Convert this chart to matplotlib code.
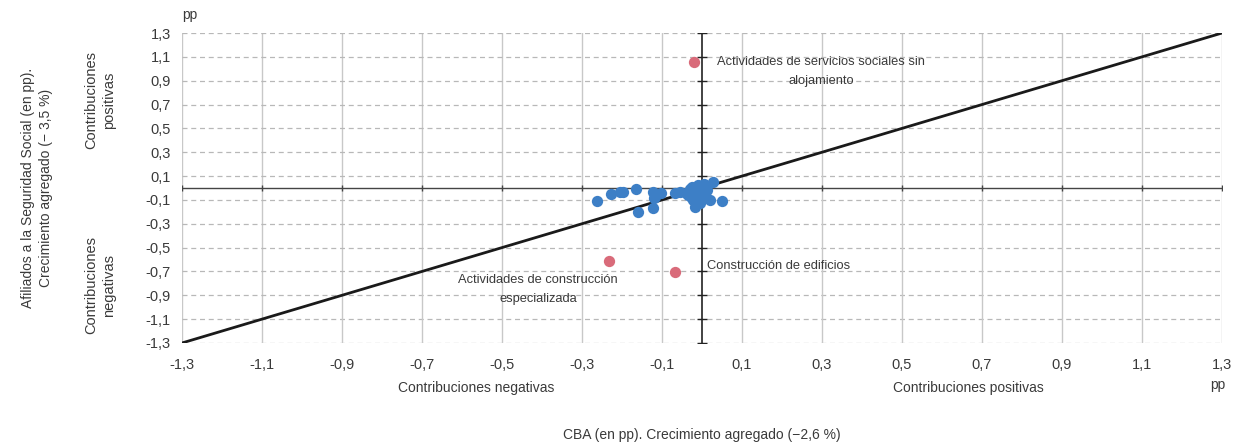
import numpy as np
import matplotlib
matplotlib.use('Agg')
import matplotlib.pyplot as plt

plt.rcParams['font.family'] = ['Liberation Sans', 'DejaVu Sans']

# sectores (contribucion CBA, contribucion afiliados), en pp
blue_x = [-0.262, -0.228, -0.205, -0.197, -0.165, -0.160, -0.122, -0.122, -0.120, -0.117,
          -0.103, -0.067, -0.055, -0.040, -0.034, -0.030, -0.028, -0.026, -0.022, -0.020,
          -0.018, -0.015, -0.013, -0.010, -0.008, -0.005, -0.001, 0.000, 0.003, 0.005,
          0.008, 0.012, 0.020, 0.028, 0.049]
blue_y = [-0.107, -0.053, -0.034, -0.030, -0.011, -0.200, -0.030, -0.170, -0.087, -0.073,
          -0.045, -0.045, -0.030, -0.040, -0.059, -0.010, -0.075, 0.011, -0.100, -0.020,
          -0.157, -0.120, -0.045, 0.025, -0.090, -0.128, -0.073, -0.030, 0.011, 0.030,
          -0.050, -0.017, -0.100, 0.053, -0.107]

red_x = [-0.020, -0.232, -0.068]
red_y = [1.057, -0.612, -0.705]
red_labels = ['Actividades de servicios sociales sin\nalojamiento',
              'Actividades de construcción\nespecializada',
              'Construcción de edificios']

ticks = np.round(np.arange(-1.3, 1.31, 0.2), 1)
tick_labels = [f'{t:.1f}'.replace('.', ',') for t in ticks]

txt = '#3a3a3a'
blue = '#3d7fc6'
red = '#d96b7a'

fig = plt.figure(figsize=(12.42, 4.48), dpi=100)
ax = fig.add_axes([0.1465, 0.2344, 0.8374, 0.6919])

ax.set_xlim(-1.3, 1.3)
ax.set_ylim(-1.3, 1.3)
for t in ticks:
    ax.axvline(t, color='#c8c8c8', lw=1, zorder=0)
    ax.axhline(t, color='#b8b8b8', lw=0.9, ls=(0, (4, 3)), zorder=0)

# ejes en cero con marcas
ax.axhline(0, color='#444444', lw=1, zorder=1)
ax.axvline(0, color='#222222', lw=1.2, zorder=1)
ax.plot(ticks, np.zeros_like(ticks), ls='none', marker='|', ms=4.5, color='#444444', zorder=1)
ax.plot(np.zeros_like(ticks), ticks, ls='none', marker='_', ms=6.5, color='#222222', zorder=1)

ax.plot([-1.3, 1.3], [-1.3, 1.3], color='#1a1a1a', lw=2, zorder=2)

ax.scatter(blue_x, blue_y, s=66, color=blue, zorder=3, linewidths=0)
ax.scatter(red_x, red_y, s=66, color=red, zorder=3, linewidths=0)

ax.text(0.298, 0.98, red_labels[0], ha='center', va='center', fontsize=9.3, color=txt, linespacing=1.75)
ax.text(-0.41, -0.851, red_labels[1], ha='center', va='center', fontsize=9.3, color=txt, linespacing=1.75)
ax.text(0.012, -0.655, red_labels[2], ha='left', va='center', fontsize=9.3, color=txt)

ax.set_xticks(ticks)
ax.set_xticklabels(tick_labels)
ax.set_yticks(ticks)
ax.set_yticklabels(tick_labels)
ax.tick_params(axis='x', length=0, labelsize=10.5, labelcolor=txt, pad=11)
ax.tick_params(axis='y', length=0, labelsize=10.5, labelcolor=txt, pad=8)
for s in ax.spines.values():
    s.set_visible(False)

fig.text(190 / 1242, 1 - 15 / 448, 'pp', ha='center', va='center', fontsize=10, color=txt)
fig.text(1218 / 1242, 1 - 385 / 448, 'pp', ha='center', va='center', fontsize=10, color=txt)
fig.text(476 / 1242, 1 - 388 / 448, 'Contribuciones negativas', ha='center', va='center', fontsize=10, color=txt)
fig.text(968 / 1242, 1 - 388 / 448, 'Contribuciones positivas', ha='center', va='center', fontsize=10, color=txt)
fig.text(702 / 1242, 1 - 435 / 448, 'CBA (en pp). Crecimiento agregado (−2,6 %)', ha='center', va='center', fontsize=10, color=txt)
fig.text(37 / 1242, 1 - 188 / 448, 'Afiliados a la Seguridad Social (en pp).\nCrecimiento agregado (− 3,5 %)',
         ha='center', va='center', rotation=90, fontsize=10, color=txt, linespacing=1.3)
fig.text(100 / 1242, 1 - 100 / 448, 'Contribuciones\npositivas', ha='center', va='center', rotation=90,
         fontsize=10.5, color=txt, linespacing=1.3)
fig.text(100 / 1242, 1 - 285 / 448, 'Contribuciones\nnegativas', ha='center', va='center', rotation=90,
         fontsize=10.5, color=txt, linespacing=1.3)

fig.savefig('out.png', dpi=100)
